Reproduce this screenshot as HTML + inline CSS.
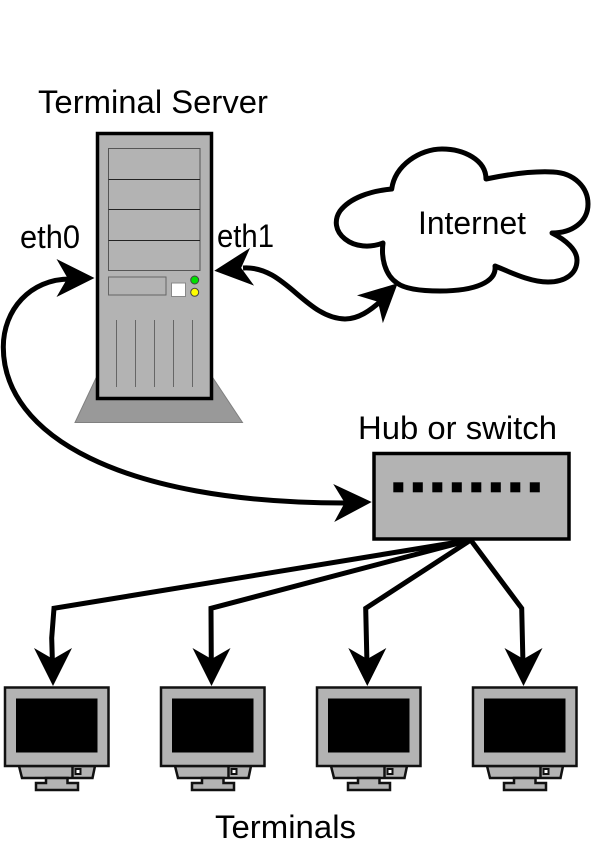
<!DOCTYPE html>
<html>
<head>
<meta charset="utf-8">
<style>
html,body{margin:0;padding:0;background:#fff;width:600px;height:850px;overflow:hidden}
svg{display:block}
text{font-family:"Liberation Sans",sans-serif;font-size:32px;fill:#000}
</style>
</head>
<body>
<svg width="600" height="850" viewBox="0 0 600 850" xmlns="http://www.w3.org/2000/svg">
<defs>
<path id="h" d="M0 0 L-38 -19 L-27 0 L-38 19 Z" fill="#000"/>
<g id="mon">
<polygon points="19,766 22,778 92.5,778 95,766" fill="#b3b3b3" stroke="#111" stroke-width="2.5"/>
<line x1="72.5" y1="766" x2="72.5" y2="778" stroke="#111" stroke-width="2.5"/>
<rect x="75.5" y="769" width="5" height="5" fill="#fff" stroke="#111" stroke-width="2"/>
<path d="M46 778 V783 H36 L36 790 H78 V783 H67.5 V778 Z" fill="#b3b3b3" stroke="#111" stroke-width="2.5"/>
<rect x="5" y="687.5" width="103.5" height="78.5" fill="#b3b3b3" stroke="#111" stroke-width="2.5"/>
<rect x="16" y="698.5" width="81.5" height="54" fill="#000"/>
</g>
</defs>

<!-- server -->
<polygon points="96,378 75,422.5 242.5,422.5 213,378" fill="#999" stroke="#808080" stroke-width="1"/>
<rect x="97.5" y="133.5" width="114" height="265" fill="#b3b3b3" stroke="#000" stroke-width="3.5"/>
<rect x="108.5" y="148.5" width="91.5" height="122" fill="none" stroke="#555" stroke-width="1"/>
<line x1="108.5" y1="179.5" x2="200" y2="179.5" stroke="#222" stroke-width="1"/>
<line x1="108.5" y1="209.5" x2="200" y2="209.5" stroke="#222" stroke-width="1"/>
<line x1="108.5" y1="240.5" x2="200" y2="240.5" stroke="#222" stroke-width="1"/>
<rect x="108.5" y="277" width="57.5" height="18" fill="#b3b3b3" stroke="#666" stroke-width="1"/>
<rect x="171.5" y="283" width="14" height="13.5" fill="#fff" stroke="#888" stroke-width="1"/>
<circle cx="194.7" cy="280" r="4" fill="#00e000" stroke="#444" stroke-width="1"/>
<circle cx="194.7" cy="292.3" r="4" fill="#ffff00" stroke="#444" stroke-width="1"/>
<g stroke="#666" stroke-width="1">
<line x1="116.5" y1="320" x2="116.5" y2="387"/>
<line x1="135.5" y1="320" x2="135.5" y2="387"/>
<line x1="154.5" y1="320" x2="154.5" y2="387"/>
<line x1="173.5" y1="320" x2="173.5" y2="387"/>
<line x1="192.5" y1="320" x2="192.5" y2="387"/>
</g>

<!-- cloud -->
<path d="M391.7 189 C395 165 420 149 442 149 C464 149 486 160 486 179 C510 174 535 171 553 172 C575 173 588 188 588 204 C588 222 572 233 552 233 C566 240 577 250 577 260 C577 274 565 282 548 282 C530 282 510 272 495 266 C497 282 475 291 440 291 C420 291 405 289 397 283 C385 275 381 258 383 243 C370 248 355 247 345 239 C335 231 334 220 340 211 C350 198 370 191 391.7 189 Z" fill="#fff" stroke="#000" stroke-width="5" stroke-linejoin="round"/>

<!-- hub -->
<rect x="374" y="453.5" width="195" height="85.5" fill="#b3b3b3" stroke="#000" stroke-width="3.5"/>
<g fill="#000">
<rect x="393.3" y="482.3" width="10" height="10"/>
<rect x="412.8" y="482.3" width="10" height="10"/>
<rect x="432.3" y="482.3" width="10" height="10"/>
<rect x="451.8" y="482.3" width="10" height="10"/>
<rect x="471.3" y="482.3" width="10" height="10"/>
<rect x="490.8" y="482.3" width="10" height="10"/>
<rect x="510.3" y="482.3" width="10" height="10"/>
<rect x="529.8" y="482.3" width="10" height="10"/>
</g>

<!-- connectors -->
<g fill="none" stroke="#000" stroke-width="5">
<path d="M70 279 C30 279 3.3 310 3.3 347 C3.3 435 120 503 345 503"/>
<path d="M243 268 C285 265 305 318 345 319 C358 319 370 311 382 300"/>
</g>
<use href="#h" transform="translate(94.5 278)"/>
<use href="#h" transform="translate(371.7 502) rotate(-1.5)"/>
<use href="#h" transform="translate(214.3 270.7) rotate(174)"/>
<use href="#h" transform="translate(397.7 283.3) rotate(-43)"/>

<g fill="none" stroke="#000" stroke-width="5" stroke-linejoin="miter">
<path d="M470.7 540 L54 608.3 L51.7 638 L52.5 665"/>
<path d="M470.7 540 L211 608.3 L211.3 665"/>
<path d="M470.7 540 L365.7 608.3 L367 665"/>
<path d="M470.7 540 L521.7 608.3 L523 665"/>
</g>
<use href="#h" transform="translate(53 686) rotate(90)"/>
<use href="#h" transform="translate(211.5 686) rotate(90)"/>
<use href="#h" transform="translate(367.3 686) rotate(90)"/>
<use href="#h" transform="translate(523.5 686) rotate(90)"/>

<!-- monitors -->
<use href="#mon"/>
<use href="#mon" transform="translate(156 0)"/>
<use href="#mon" transform="translate(312 0)"/>
<use href="#mon" transform="translate(468 0)"/>

<!-- labels -->
<text x="38" y="113" textLength="230" lengthAdjust="spacingAndGlyphs">Terminal Server</text>
<text x="20" y="248" textLength="60" lengthAdjust="spacingAndGlyphs">eth0</text>
<text x="217" y="247" textLength="57" lengthAdjust="spacingAndGlyphs">eth1</text>
<text x="418" y="234" textLength="108" lengthAdjust="spacingAndGlyphs">Internet</text>
<text x="358" y="439" textLength="199" lengthAdjust="spacingAndGlyphs">Hub or switch</text>
<text x="215" y="838" textLength="141" lengthAdjust="spacingAndGlyphs">Terminals</text>
</svg>
</body>
</html>
